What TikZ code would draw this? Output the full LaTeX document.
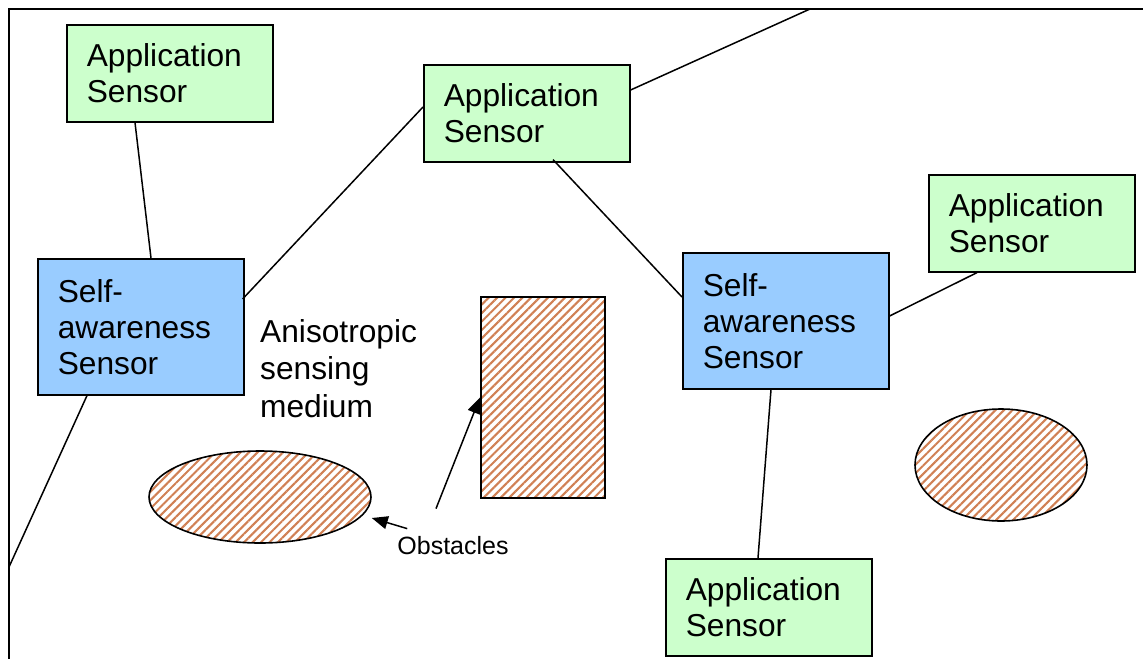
\documentclass[tikz,border=0pt]{standalone}
\usepackage{fontspec}
\setmainfont{Liberation Sans}
\usetikzlibrary{patterns.meta,calc,arrows.meta,shapes.geometric}
\definecolor{appgreen}{RGB}{204,255,204}
\definecolor{selfblue}{RGB}{153,204,255}
\definecolor{hatchcol}{RGB}{208,128,84}
\begin{document}
\begin{tikzpicture}[x=1pt,y=-1pt,
  sensorbox/.style={draw, line width=1.6pt, minimum width=206pt, inner xsep=20pt, inner ysep=0pt,
    text width=166pt, align=left, anchor=north west, font=\fontsize{31.7}{36}\selectfont},
  appbox/.style={sensorbox, fill=appgreen, minimum height=97pt},
  selfbox/.style={sensorbox, fill=selfblue, minimum height=136pt},
  obst/.style={draw, line width=1.6pt, inner sep=0pt,
    pattern={Lines[angle=45,distance=6pt,line width=2.1pt]}, pattern color=hatchcol},
  link/.style={line width=1.5pt},
  pointer/.style={line width=1.5pt, -{Triangle[length=16pt,width=13pt]}}
]
\useasboundingbox (0,0) rectangle (1143,659);
% frame
\coordinate (ftr) at (1143,9);
\coordinate (ftl) at (9,9);
\coordinate (fbl) at (9,659);
\draw[line width=2pt] (ftr) -- (ftl) -- (fbl);
\coordinate (ftop) at (810,9);
\coordinate (fleft) at (9,567);

% sensors
\node[appbox] (app1) at (66,24) {Application\\Sensor};
\node[appbox] (app2) at (423,64) {Application\\Sensor};
\node[appbox] (app3) at (928,174) {Application\\Sensor};
\node[appbox] (app4) at (665,558) {Application\\Sensor};
\node[selfbox] (sa1) at (37,258) {Self-\\awareness\\Sensor};
\node[selfbox] (sa2) at (682,252) {Self-\\awareness\\Sensor};

% medium label
\node[anchor=north west, align=left, inner sep=0pt, font=\fontsize{31.7}{37.5}\selectfont]
  (medium) at (260,319) {Anisotropic\\sensing\\medium};

% obstacles
\node[obst, rectangle, minimum width=124pt, minimum height=201pt] (rect) at (543,397.5) {};
\node[obst, ellipse, minimum width=222pt, minimum height=92pt] (ell1) at (260,497) {};
\node[obst, ellipse, minimum width=172pt, minimum height=112pt] (ell2) at (1001,465) {};
\node[font=\fontsize{25}{30}\selectfont, inner sep=0pt] (obs) at (453,546) {Obstacles};

\draw[pointer] ($(obs.north west)+(10,-8)$) -- ($(ell1.east)+(0,21)$);
\draw[pointer] ($(obs.north)+(-17,-28)$) -- (rect.west);

% connectors
\draw[link] ($(app1.south west)+(69,0)$) -- ($(sa1.north west)+(114,0)$);
\draw[link] ($(sa1.north east)+(-2,41)$) -- ($(app2.north west)+(0,43)$);
\draw[link] ($(app2.north east)+(0,26)$) -- (ftop);
\draw[link] ($(app2.south west)+(130,-3)$) -- ($(sa2.north west)+(0,45)$);
\draw[link] ($(sa2.north east)+(0,64)$) -- ($(app3.south west)+(49,0)$);
\draw[link] ($(sa2.south west)+(89,0)$) -- ($(app4.north west)+(93,0)$);
\draw[link] ($(sa1.south west)+(50,0)$) -- (fleft);
\end{tikzpicture}
\end{document}
